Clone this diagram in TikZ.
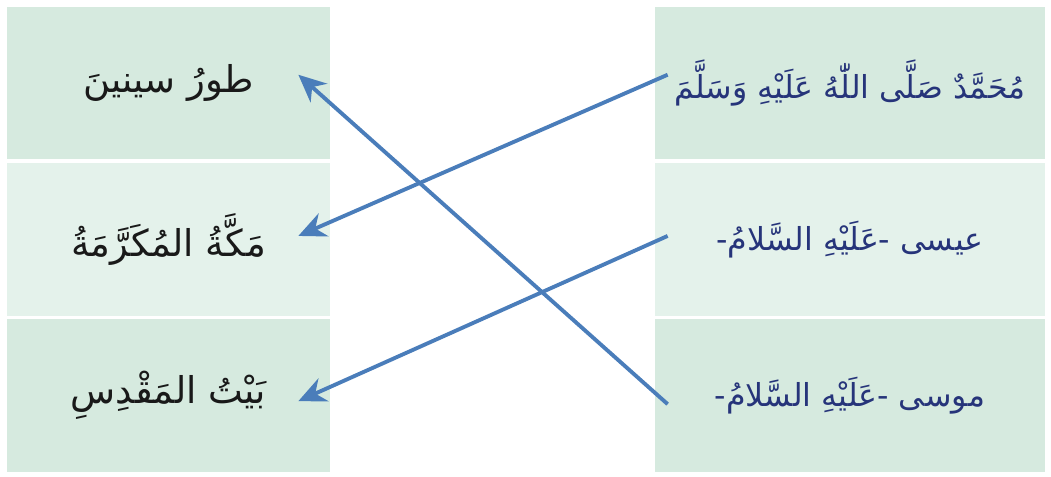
\documentclass[tikz,border=0pt]{standalone}
\usepackage{fontspec}
\newfontfamily\arabicfont[Script=Arabic]{DejaVu Sans}
\TeXXeTstate=1
\usetikzlibrary{arrows.meta, positioning}
\definecolor{boxgreen}{RGB}{214, 234, 223}
\definecolor{boxpale}{RGB}{228, 242, 235}
\definecolor{linkblue}{RGB}{74, 125, 186}
\definecolor{namenavy}{RGB}{38, 52, 122}

\begin{document}
\begin{tikzpicture}[
		lbox/.style={fill=boxgreen, minimum width=6.46cm, minimum height=3.05cm, inner sep=0pt,
			font=\arabicfont\fontsize{21}{25}\selectfont, text=black!90},
		rbox/.style={lbox, minimum width=7.8cm, text=namenavy,
			font=\arabicfont\fontsize{18}{22}\selectfont},
		link/.style={draw=linkblue, line width=2.2pt, -{Stealth[length=5.5mm, width=5mm, inset=1.8mm]}}]
			\useasboundingbox (0,0) rectangle (21.02,9.54);
			
			% places (left)
			\node[lbox] (tur) at (3.37,7.875) {\beginR طورُ سينينَ\endR};
			\node[lbox, fill=boxpale, below=0.06cm of tur] (makka) {\beginR مَكَّةُ المُكَرَّمَةُ\endR};
			\node[lbox, below=0.06cm of makka] (bayt) {\beginR بَيْتُ المَقْدِسِ\endR};
			
			% prophets (right)
			\node[rbox] (muh) at (17.0,7.875) {\beginR مُحَمَّدٌ صَلَّى اللّٰهُ عَلَيْهِ وَسَلَّمَ\endR};
			\node[rbox, fill=boxpale, below=0.06cm of muh] (isa) {\beginR عيسى -عَلَيْهِ السَّلامُ-\endR};
			\node[rbox, below=0.06cm of isa] (musa) {\beginR موسى -عَلَيْهِ السَّلامُ-\endR};
			
			\draw[link] ([shift={(0.26,-0.17)}]musa.west) -- ([shift={(-0.64,0.17)}]tur.east);
			\draw[link] ([shift={(0.26,0.17)}]muh.west) -- ([shift={(-0.64,0.07)}]makka.east);
			\draw[link] ([shift={(0.26,0.07)}]isa.west) -- ([shift={(-0.64,-0.11)}]bayt.east);
		\end{tikzpicture}
\end{document}
